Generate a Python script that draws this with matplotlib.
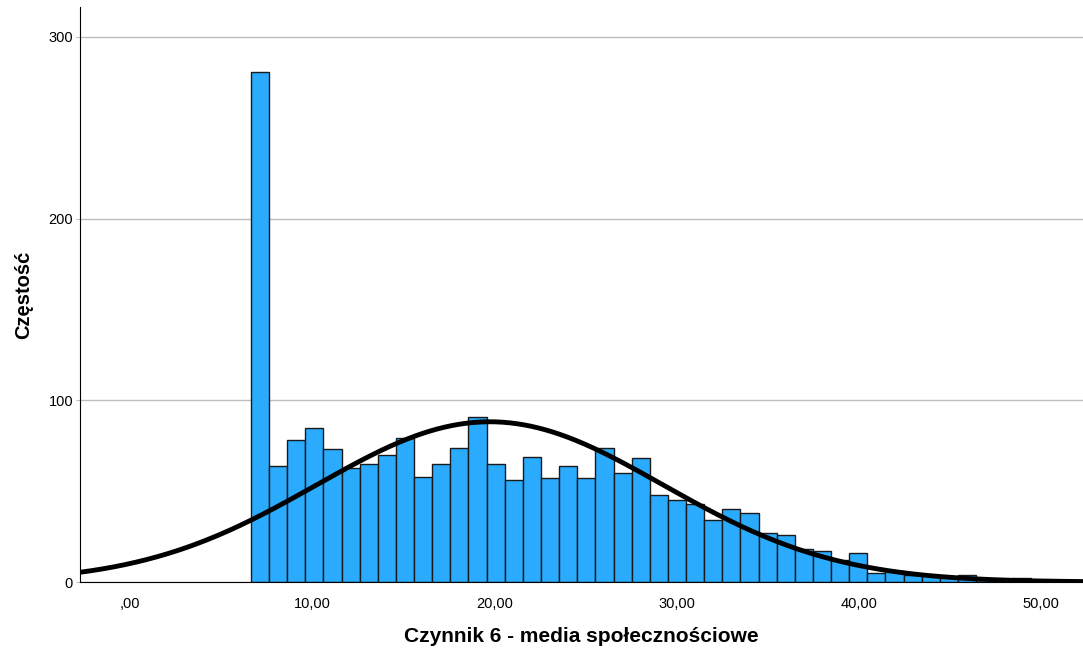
import matplotlib.pyplot as plt
import numpy as np

# dane histogramu
first_edge = 6.64
bin_width = 0.995
counts = [281, 64, 78, 85, 73, 63, 65, 70, 79, 58,
          65, 74, 91, 65, 56, 69, 57, 64, 57, 74,
          60, 68, 48, 45, 43, 34, 40, 38, 27, 26,
          18, 17, 12, 16, 5, 6, 4, 4, 3, 4,
          1, 1, 2, 1]
mean = 19.75
sd = 9.5
xticks = [0, 10, 20, 30, 40, 50]
xticklabels = [",00", "10,00", "20,00", "30,00", "40,00", "50,00"]
yticks = [0, 100, 200, 300]

plt.rcParams['font.family'] = ['Liberation Sans', 'DejaVu Sans']

fig = plt.figure(figsize=(10.83, 6.5), dpi=100)
ax = fig.add_axes([0.0739, 0.1046, 0.926, 0.8846])

edges = first_edge + bin_width * np.arange(len(counts))
ax.bar(edges, counts, width=bin_width, align='edge',
       color='#2AABFD', edgecolor='#1a1a1a', linewidth=1.0, zorder=2)

# krzywa normalna
n = sum(counts)
xs = np.linspace(-5, 55, 600)
ys = n * bin_width / (sd * np.sqrt(2 * np.pi)) * np.exp(-(xs - mean) ** 2 / (2 * sd ** 2))
ax.plot(xs, ys, color='black', linewidth=3.5, zorder=3)

ax.set_xlim(-2.74, 52.3)
ax.set_ylim(0, 316.5)
ax.set_xticks(xticks)
ax.set_xticklabels(xticklabels)
ax.set_yticks(yticks)
ax.yaxis.grid(True, color='#bdbdbd', linewidth=1.0, zorder=0)
ax.set_axisbelow(True)
ax.tick_params(axis='x', length=0, pad=11, labelsize=10.5)
ax.tick_params(axis='y', length=3, color='#bdbdbd', pad=2, labelsize=10.5)

for s in ['top', 'right']:
    ax.spines[s].set_visible(False)
ax.spines['left'].set_color('black')
ax.spines['bottom'].set_color('black')

ax.set_xlabel("Czynnik 6 - media społecznościowe", fontsize=15, fontweight='bold', labelpad=11)
ax.set_ylabel("Częstość", fontsize=14.5, fontweight='bold', labelpad=11)

fig.savefig('out.png', dpi=100)
